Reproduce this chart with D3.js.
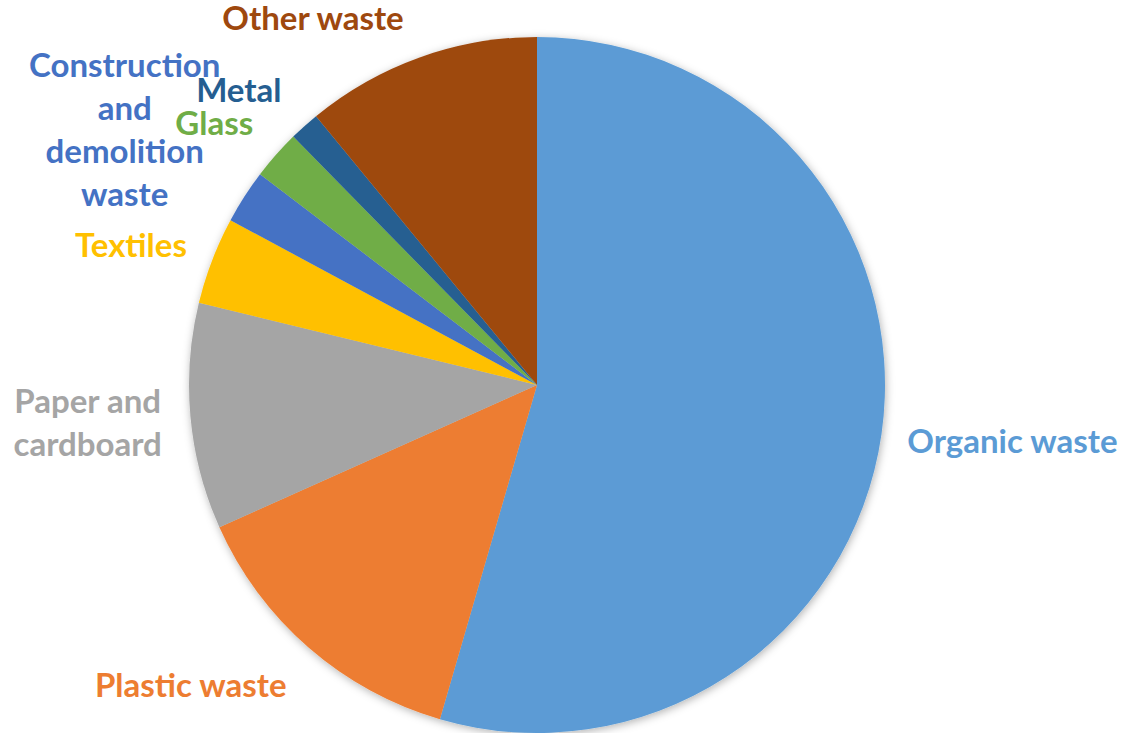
<!DOCTYPE html>
<html lang="en">
<head>
    <meta charset="UTF-8">
    <title>Waste composition</title>
    <style>
        body{ margin:0; background:#fff; }
        text{
            font-family: Lato, "Open Sans", sans-serif;
            font-weight: 700;
        }
    </style>
    <script src="https://d3js.org/d3.v7.min.js"></script>
</head>
<body>
    <div class="canvas"></div>
    <script>
     // share of waste, percent
     const categories = ['Organic waste','Plastic waste','Paper and cardboard','Textiles',
                         'Construction and demolition waste','Glass','Metal','Other waste'];
     const shares = [54.5, 13.8, 10.5, 4.05, 2.5, 2.3, 1.4, 10.95];
     const colours = ['#5B9BD5','#ED7D31','#A5A5A5','#FFC000','#4472C4','#70AD47','#255E91','#9E480E'];
     // how each label is broken into lines
     const labelLines = [['Organic waste'],['Plastic waste'],['Paper and','cardboard'],['Textiles'],
                         ['Construction','and','demolition','waste'],['Glass'],['Metal'],['Other waste']];

     const width = 1121, height = 733;
     const cx = 537, cy = 385, radius = 348;
     const fontSize = 33, lineHeight = 43;

     const svg = d3.select('.canvas')
                    .append('svg')
                    .attr('width',width)
                    .attr('height',height);

     const defs = svg.append('defs');
     const filter = defs.append('filter').attr('id','shadow')
                        .attr('x','-10%').attr('y','-10%').attr('width','120%').attr('height','120%');
     filter.append('feDropShadow')
            .attr('dx',1).attr('dy',2)
            .attr('stdDeviation',4)
            .attr('flood-color','#000')
            .attr('flood-opacity',0.3);

     const data = categories.map((c,i)=>({name:c, value:shares[i], colour:colours[i], lines:labelLines[i]}));

     const pie = d3.pie().sort(null).value(d=>d.value);
     const arc = d3.arc().innerRadius(0).outerRadius(radius);
     const arcs = pie(data);

     const g = svg.append('g').attr('transform',`translate(${cx},${cy})`);
     g.append('g').attr('filter','url(#shadow)')
        .selectAll('path')
        .data(arcs)
        .enter()
        .append('path')
        .attr('d',arc)
        .attr('fill',d=>d.data.colour);

     // labels sit just outside the rim, on the side facing the slice
     const labelR = radius + 18;
     // small hand nudges, like Excel's own "best fit" shuffling
     const nudge = {
        'Organic waste':[9,2],'Plastic waste':[-43,9],'Paper and cardboard':[-11,1],'Textiles':[-12,-1.5],
        'Construction and demolition waste':[-24,-11],'Glass':[-19,-6],'Metal':[-25,-8],'Other waste':[-70,-3]
     };

     const labels = g.selectAll('text.label')
        .data(arcs)
        .enter()
        .append('text')
        .attr('class','label')
        .attr('text-anchor','middle')
        .attr('font-size',fontSize)
        .attr('fill',d=>d.data.colour);

     labels.each(function(d){
        const t = d3.select(this);
        const n = d.data.lines.length;
        d.data.lines.forEach((l,i)=>{
            t.append('tspan').attr('x',0).attr('dy', i===0 ? 0 : lineHeight).text(l);
        });
        const bb = this.getBBox();
        const w = bb.width;
        const h = (n-1)*lineHeight + fontSize*1.2;
        const a = (d.startAngle + d.endAngle)/2;
        const ax = labelR*Math.sin(a), ay = -labelR*Math.cos(a);
        const bx = ax + (w/2)*Math.sin(a);
        const by = ay - (h/2)*Math.cos(a);
        const nd = nudge[d.data.name];
        // first baseline so the block is centred on (bx,by)
        const top = by - h/2;
        t.attr('transform',`translate(${bx+nd[0]},${top + fontSize*0.95 + nd[1]})`);
     });
    </script>
</body>
</html>
